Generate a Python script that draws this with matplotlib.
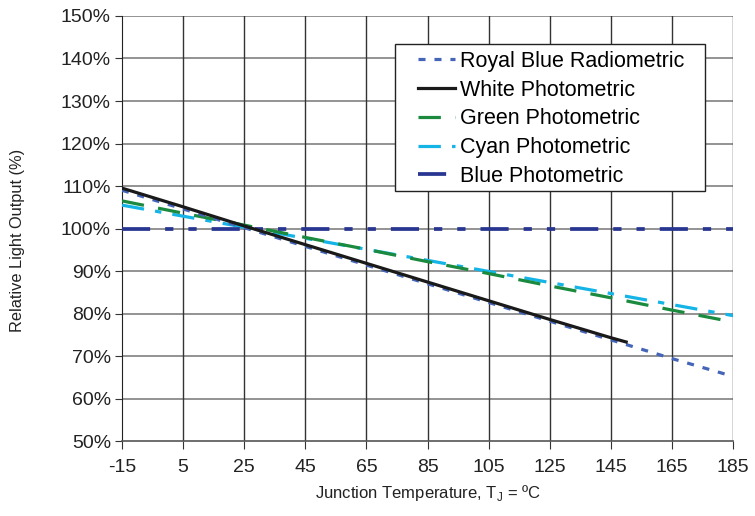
import matplotlib.pyplot as plt
from matplotlib.patches import Rectangle
from matplotlib.ticker import FuncFormatter

plt.rcParams['font.family'] = ['Liberation Sans', 'DejaVu Sans']
plt.rcParams['axes.unicode_minus'] = False

temps = [-15, 5, 25, 45, 65, 85, 105, 125, 145, 165, 185]
royal_blue = [109, 104.6, 100.2, 95.8, 91.4, 87.0, 82.6, 78.2, 73.8, 69.4, 65.2]
white_t = [-15, 5, 25, 45, 65, 85, 105, 125, 145, 150]
white = [109.5, 105.1, 100.6, 96.2, 91.8, 87.4, 83.0, 78.6, 74.3, 73.3]
green = [106.5, 103.6, 100.8, 97.9, 95.1, 92.2, 89.4, 86.5, 83.7, 80.8, 78.0]
cyan = [105.5, 102.9, 100.3, 97.7, 95.1, 92.5, 89.9, 87.3, 84.7, 82.1, 79.5]
blue = [100] * len(temps)

W, H = 755, 516
fig = plt.figure(figsize=(W / 100, H / 100), dpi=100)
ax = fig.add_axes([0.1616, 0.1453, 0.8094, 0.8237])

lw = 2.3
ax.plot(temps, royal_blue, color='#4465b8', lw=lw, dashes=(2.2, 2.8), label='Royal Blue Radiometric', zorder=5)
ax.plot(white_t, white, color='#1a1a1a', lw=lw, label='White Photometric', zorder=6)
ax.plot(temps, green, color='#1b8a3e', lw=lw, dashes=(7, 4.5), label='Green Photometric', zorder=4)
ax.plot(temps, cyan, color='#14b4e6', lw=lw, dashes=(7, 3.5, 2, 3.5), label='Cyan Photometric', zorder=3)
ax.plot(temps, blue, color='#283591', lw=lw + 0.4, dashes=(7.5, 4, 2.2, 4, 2.2, 4), label='Blue Photometric', zorder=4)

ax.set_xlim(-15, 185)
ax.set_ylim(50, 150)
ax.set_xticks(temps)
ax.set_yticks(range(50, 151, 10))
ax.yaxis.set_major_formatter(FuncFormatter(lambda v, p: '%d%%' % v))

for y in range(60, 151, 10):
    ax.axhline(y, color='#808080', lw=1.2, zorder=1)
for x in temps[1:]:
    ax.axvline(x, color='#333333', lw=1.0, zorder=1)

for s in ['top', 'right']:
    ax.spines[s].set_visible(False)
ax.spines['left'].set_color('#222222')
ax.spines['bottom'].set_color('#555555')
ax.spines['bottom'].set_linewidth(1.2)
ax.tick_params(axis='y', direction='out', length=5, color='#333333', labelsize=14, labelcolor='#222222', pad=3)
ax.tick_params(axis='x', direction='out', length=6, color='#333333', labelsize=14, labelcolor='#222222', pad=7)

ax.set_xlabel('Junction Temperature, T$_\\mathregular{J}$ = ºC', fontsize=12, color='#222222', labelpad=5)
fig.text(18 / W, 1 - 240 / H, 'Relative Light Output (%)', fontsize=11.8, color='#222222',
         rotation=90, ha='center', va='center')

# legend frame drawn separately so the side padding can be wider than the top/bottom
fig.patches.append(Rectangle((395 / W, 1 - 191 / H), 310 / W, 147 / H, transform=fig.transFigure,
                             facecolor='white', edgecolor='#222222', lw=1.0, zorder=7))
leg = fig.legend(*ax.get_legend_handles_labels(), loc='upper left', bbox_to_anchor=(418 / W, 1 - 51 / H),
                 borderaxespad=0, borderpad=0, fontsize=15.5, frameon=False,
                 handlelength=1.72, labelspacing=0.36, handletextpad=0.25)
leg.set_zorder(8)

fig.savefig('out.png', dpi=100)
